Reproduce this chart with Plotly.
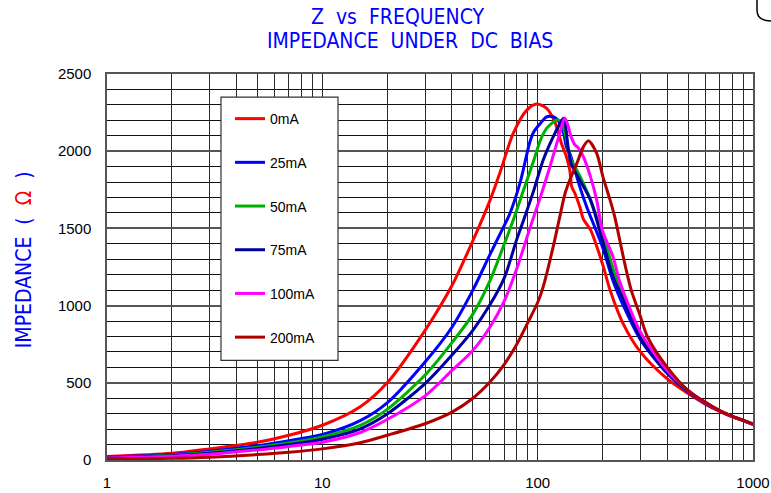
import plotly.graph_objects as go

# ---------------- data ----------------
names = ["0mA", "25mA", "50mA", "75mA", "100mA", "200mA"]
colors = ["#ff0000", "#0000ff", "#00b000", "#0000a0", "#ff00ff", "#b00000"]

f_0mA = [1, 2, 3, 5, 7, 10, 15, 20, 30, 40, 50, 60, 67, 77, 89, 99, 110, 120, 129, 136,
         141, 144, 149, 157, 163, 176, 200, 217, 250, 300, 400, 500, 600, 700, 800, 900, 1000]
z_0mA = [22, 43, 72, 115, 160, 225, 345, 500, 840, 1130, 1420, 1680, 1866, 2115, 2266, 2305, 2277, 2191, 2050, 1964,
         1877, 1769, 1726, 1639, 1560, 1490, 1270, 1100, 880, 700, 525, 430, 362, 315, 280, 255, 230]

f_25mA = [1, 2, 3, 5, 7, 10, 15, 20, 30, 40, 50, 60, 70, 74, 83, 92, 96, 103, 110, 118,
          124, 132, 136, 141, 149, 157, 169, 200, 224, 250, 300, 400, 500, 600, 700, 800, 900, 1000]
z_25mA = [18, 35, 57, 93, 125, 165, 255, 370, 635, 860, 1100, 1330, 1520, 1590, 1800, 2060, 2126, 2180, 2223, 2223,
          2202, 2115, 2028, 1986, 1877, 1769, 1639, 1380, 1160, 1000, 780, 560, 440, 368, 318, 282, 256, 232]

f_50mA = [1, 2, 3, 5, 7, 10, 15, 20, 30, 40, 50, 60, 70, 77, 86, 96, 103, 110, 123, 129,
          134, 139, 143, 152, 163, 176, 200, 228, 250, 300, 400, 500, 600, 700, 800, 900, 1000]
z_50mA = [16, 31, 50, 82, 110, 150, 225, 328, 550, 760, 945, 1160, 1400, 1553, 1748, 1942, 2072, 2148, 2202, 2191,
          2115, 2007, 1942, 1877, 1791, 1683, 1465, 1205, 1050, 800, 565, 445, 370, 318, 282, 256, 232]

f_75mA = [1, 2, 3, 5, 7, 10, 15, 20, 30, 40, 50, 60, 70, 80, 86, 96, 106, 118, 126, 132,
          139, 143, 157, 176, 200, 224, 250, 300, 400, 500, 600, 700, 800, 900, 1000]
z_75mA = [15, 28, 44, 74, 100, 135, 202, 298, 495, 680, 840, 1005, 1180, 1430, 1553, 1748, 1942, 2093, 2170, 2213,
          2007, 1921, 1812, 1683, 1420, 1185, 1040, 790, 565, 445, 370, 318, 282, 256, 232]

f_100mA = [1, 2, 3, 5, 7, 10, 15, 20, 30, 40, 50, 60, 70, 80, 92, 103, 114, 124, 134, 143,
           149, 153, 163, 176, 188, 200, 224, 240, 300, 400, 500, 600, 700, 800, 900, 1000]
z_100mA = [13, 24, 37, 65, 88, 115, 178, 262, 415, 580, 710, 860, 1030, 1240, 1500, 1704, 1899, 2072, 2213, 2093,
           2040, 2028, 1964, 1834, 1683, 1485, 1315, 1160, 830, 580, 450, 372, 320, 283, 257, 232]

f_200mA = [1, 2, 3, 5, 7, 10, 15, 20, 30, 40, 50, 60, 70, 80, 90, 100, 106, 118, 126, 134,
           141, 152, 163, 172, 188, 201, 217, 228, 254, 272, 300, 323, 400, 500, 600, 700, 800, 900, 1000]
z_200mA = [8, 11, 18, 35, 50, 72, 112, 160, 235, 310, 400, 505, 620, 750, 890, 1020, 1120, 1380, 1560, 1726,
           1813, 1921, 2028, 2068, 1986, 1834, 1683, 1575, 1270, 1100, 930, 800, 600, 450, 375, 320, 284, 258, 232]

freqs = [f_0mA, f_25mA, f_50mA, f_75mA, f_100mA, f_200mA]
imps = [z_0mA, z_25mA, z_50mA, z_75mA, z_100mA, z_200mA]

x_tickvals = [m * 10 ** d for d in range(3) for m in range(1, 10)] + [1000]
x_ticktext = [str(v) if v in (1, 10, 100, 1000) else "" for v in x_tickvals]
y_tickvals = [0, 500, 1000, 1500, 2000, 2500]

title_line1 = "Z&#160;&#160;vs&#160;&#160;FREQUENCY"
title_line2 = "IMPEDANCE&#160;&#160;UNDER&#160;&#160;DC&#160;&#160;BIAS"
ytitle_text = "IMPEDANCE&#160;&#160;(&#160;&#160;<span style='color:#ff0000'>Ω</span>&#160;&#160;)"

# ---------------- figure ----------------
fig = go.Figure()
for name, col, fx, zy in zip(names, colors, freqs, imps):
    fig.add_trace(go.Scatter(
        x=fx, y=zy, name=name, mode="lines", legendgroup=name,
        line=dict(color=col, width=3, shape="spline", smoothing=0.8),
    ))

narrow = "Liberation Sans Narrow, DejaVu Sans Condensed, Arial Narrow, sans-serif"
PW, PH = 646.0, 385.5  # plot area size in px


def px(xp):
    return (xp - 107) / PW


def py(yp):
    return (459.5 - yp) / PH


fig.update_layout(
    width=771, height=493,
    margin=dict(l=107, r=18, t=74, b=33, autoexpand=False),
    paper_bgcolor="white", plot_bgcolor="white",
    showlegend=True,
    legend=dict(x=px(230), y=py(103), xanchor="left", yanchor="top",
                bgcolor="rgba(0,0,0,0)", borderwidth=0,
                font=dict(family="Liberation Sans, Arial, sans-serif", size=14, color="black"),
                tracegroupgap=22.5, traceorder="grouped"),
    annotations=[
        dict(text=title_line1, xref="paper", yref="paper", x=px(397), y=py(17),
             xanchor="center", yanchor="middle", showarrow=False,
             font=dict(family=narrow, size=21, color="#0000ff")),
        dict(text=title_line2, xref="paper", yref="paper", x=px(410), y=py(41),
             xanchor="center", yanchor="middle", showarrow=False,
             font=dict(family=narrow, size=21, color="#0000ff")),
        dict(text=ytitle_text, xref="paper", yref="paper", x=px(24), y=py(259),
             xanchor="center", yanchor="middle", showarrow=False, textangle=-90,
             font=dict(family=narrow, size=21, color="#0000ff")),
    ],
    shapes=[
        dict(type="rect", xref="paper", yref="paper",
             x0=px(221), x1=px(338), y0=py(360), y1=py(97),
             fillcolor="white", line=dict(color="#333333", width=1.2), layer="above"),
        dict(type="path", xref="paper", yref="paper",
             path="M 1.0062,1.2 L 1.0062,1.166 Q 1.0062,1.1375 1.0279,1.1375",
             line=dict(color="black", width=1.5)),
    ],
)

fig.update_xaxes(
    type="log", range=[0, 3], automargin=False,
    tickmode="array", tickvals=x_tickvals, ticktext=x_ticktext,
    showgrid=True, gridcolor="#2a2a2a", gridwidth=1,
    ticks="", ticklabelstandoff=8,
    tickfont=dict(family="Liberation Sans, Arial, sans-serif", size=15, color="black"),
    showline=True, linecolor="#555555", linewidth=1.5, mirror=True, zeroline=False,
)
fig.update_yaxes(
    range=[0, 2500], tickmode="array", tickvals=y_tickvals, automargin=False,
    showgrid=True, gridcolor="#555555", gridwidth=1.5,
    minor=dict(dtick=100, showgrid=True, gridcolor="#111111", gridwidth=1, ticks=""),
    ticks="", ticklabelstandoff=11,
    tickfont=dict(family="Liberation Sans, Arial, sans-serif", size=15, color="black"),
    showline=True, linecolor="#555555", linewidth=1.5, mirror=True, zeroline=False,
)

fig.write_html("out.html", config={"displayModeBar": False},
               post_script="document.body.style.margin='0';document.body.style.padding='0';")
